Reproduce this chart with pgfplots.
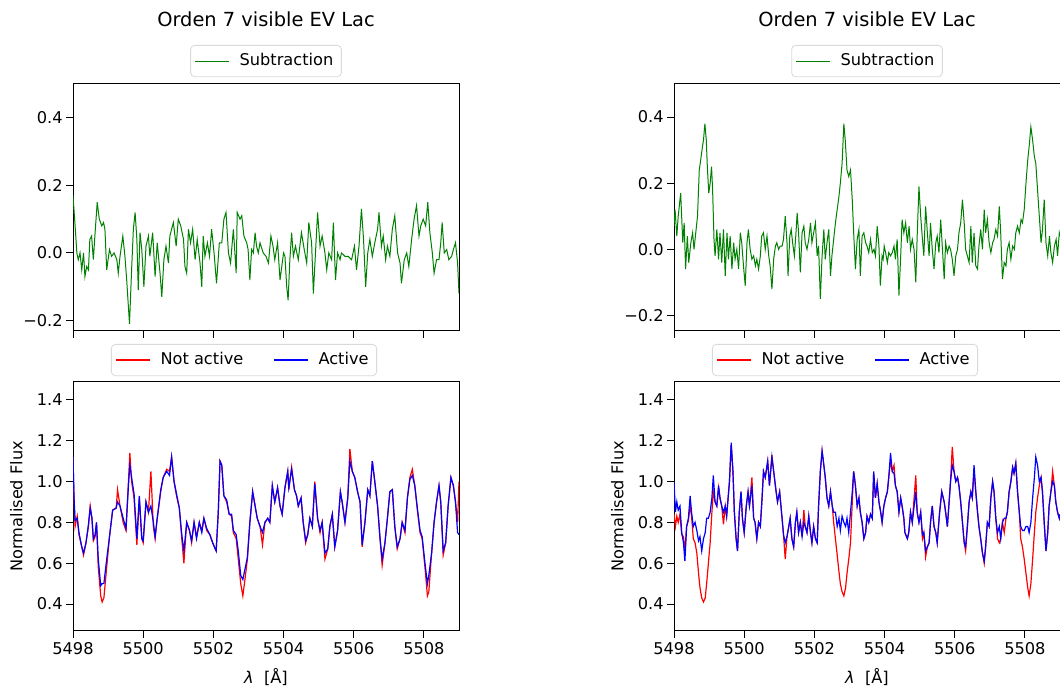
\documentclass[border=0pt]{standalone}
\usepackage{pgfplots}
\pgfplotsset{compat=1.18}
\usepackage{pgfplotstable}
\usepackage{fontspec}
\setmainfont{DejaVu Sans}

\definecolor{mplgreen}{RGB}{0,128,0}

% left column, subtraction
\pgfplotstableread{
x s
5498.00 0.17
5498.06 0.08
5498.11 0.00
5498.15 -0.02
5498.20 0.00
5498.25 -0.05
5498.30 0.00
5498.34 -0.07
5498.39 -0.04
5498.44 -0.05
5498.48 0.04
5498.53 0.05
5498.58 -0.02
5498.63 0.06
5498.69 0.15
5498.75 0.10
5498.82 0.08
5498.87 0.09
5498.91 0.07
5498.96 -0.05
5499.04 0.01
5499.10 -0.01
5499.17 0.00
5499.25 -0.02
5499.29 -0.06
5499.34 -0.01
5499.42 0.05
5499.48 -0.01
5499.53 -0.08
5499.61 -0.21
5499.67 -0.05
5499.72 0.07
5499.77 0.12
5499.82 0.04
5499.86 -0.11
5499.91 0.06
5499.96 0.01
5500.02 -0.10
5500.08 0.02
5500.15 0.05
5500.19 -0.01
5500.27 0.06
5500.34 -0.07
5500.40 0.03
5500.48 -0.06
5500.53 -0.13
5500.59 -0.02
5500.65 0.02
5500.72 -0.03
5500.76 0.05
5500.86 0.09
5500.94 0.02
5501.00 0.10
5501.07 0.08
5501.15 0.04
5501.19 -0.04
5501.24 -0.06
5501.29 0.07
5501.35 0.03
5501.41 0.07
5501.48 -0.02
5501.54 0.04
5501.62 -0.03
5501.67 -0.10
5501.71 0.05
5501.76 -0.01
5501.83 0.03
5501.89 -0.01
5501.95 0.07
5502.02 0.00
5502.09 -0.09
5502.17 0.03
5502.24 0.03
5502.30 0.10
5502.36 0.12
5502.43 0.00
5502.49 -0.03
5502.57 0.07
5502.65 -0.06
5502.68 0.12
5502.76 0.10
5502.81 0.11
5502.87 0.05
5502.95 0.03
5502.99 0.01
5503.04 -0.08
5503.09 0.01
5503.14 0.00
5503.19 0.06
5503.23 0.02
5503.28 0.00
5503.33 0.03
5503.42 0.00
5503.50 -0.01
5503.57 -0.03
5503.64 0.05
5503.70 0.02
5503.75 -0.02
5503.83 0.03
5503.90 -0.08
5504.00 0.00
5504.04 -0.01
5504.09 -0.10
5504.13 -0.14
5504.18 -0.02
5504.23 0.06
5504.28 -0.01
5504.34 0.02
5504.42 -0.02
5504.51 0.06
5504.59 0.01
5504.66 -0.03
5504.72 0.09
5504.80 0.03
5504.85 -0.12
5504.89 -0.04
5504.97 0.12
5505.04 0.02
5505.10 0.05
5505.18 0.00
5505.23 -0.05
5505.29 0.00
5505.37 -0.02
5505.42 0.09
5505.48 -0.08
5505.54 0.00
5505.61 -0.02
5505.65 0.00
5505.75 -0.01
5505.84 -0.01
5505.94 -0.02
5506.02 0.02
5506.08 -0.05
5506.15 0.02
5506.22 0.13
5506.28 0.04
5506.34 -0.10
5506.40 0.00
5506.46 0.04
5506.53 -0.01
5506.60 0.03
5506.68 0.07
5506.72 0.12
5506.79 0.02
5506.84 0.05
5506.91 -0.02
5506.96 0.02
5507.03 -0.01
5507.10 0.07
5507.17 0.11
5507.25 0.00
5507.32 -0.03
5507.36 -0.09
5507.44 -0.02
5507.51 0.00
5507.57 -0.04
5507.65 0.04
5507.72 0.10
5507.79 0.14
5507.86 0.05
5507.91 0.08
5507.98 0.10
5508.05 0.08
5508.11 0.15
5508.17 0.06
5508.24 0.00
5508.29 -0.06
5508.36 -0.02
5508.43 -0.02
5508.48 0.03
5508.52 0.09
5508.58 0.00
5508.65 0.01
5508.71 -0.02
5508.79 -0.01
5508.84 0.01
5508.90 0.03
5508.96 -0.03
5509.00 -0.12
}\subleft

% left column, spectra: not active, active
\pgfplotstableread{
x na ac
5498.00 1.12 1.12
5498.03 0.90 0.92
5498.06 0.78 0.81
5498.12 0.83 0.82
5498.17 0.74 0.75
5498.25 0.68 0.68
5498.30 0.64 0.65
5498.37 0.70 0.70
5498.44 0.78 0.79
5498.49 0.88 0.87
5498.54 0.82 0.82
5498.58 0.71 0.72
5498.63 0.73 0.74
5498.67 0.80 0.80
5498.72 0.58 0.62
5498.79 0.44 0.49
5498.83 0.41 0.50
5498.88 0.43 0.50
5498.96 0.58 0.62
5499.04 0.73 0.73
5499.13 0.86 0.86
5499.23 0.87 0.87
5499.27 0.96 0.90
5499.34 0.88 0.88
5499.43 0.80 0.82
5499.51 0.76 0.77
5499.58 1.00 0.98
5499.62 1.14 1.08
5499.67 1.00 1.02
5499.74 0.92 0.94
5499.82 0.69 0.72
5499.89 0.92 0.93
5499.96 0.72 0.72
5500.00 0.70 0.71
5500.08 0.90 0.90
5500.15 0.85 0.85
5500.22 1.05 0.88
5500.29 0.78 0.80
5500.34 0.72 0.73
5500.40 0.82 0.82
5500.50 0.95 0.96
5500.57 1.02 1.02
5500.67 1.06 1.05
5500.75 1.05 1.03
5500.81 1.12 1.12
5500.88 1.00 1.00
5500.95 0.93 0.94
5501.03 0.87 0.87
5501.10 0.72 0.74
5501.16 0.60 0.66
5501.24 0.80 0.80
5501.32 0.76 0.76
5501.38 0.70 0.71
5501.45 0.80 0.80
5501.52 0.73 0.72
5501.60 0.80 0.80
5501.67 0.76 0.75
5501.73 0.82 0.82
5501.81 0.76 0.77
5501.90 0.74 0.74
5501.98 0.70 0.70
5502.08 0.66 0.66
5502.14 0.85 0.85
5502.19 1.10 1.10
5502.24 1.08 1.08
5502.30 0.93 0.93
5502.38 0.90 0.91
5502.45 0.84 0.84
5502.52 0.83 0.84
5502.57 0.75 0.76
5502.65 0.72 0.74
5502.71 0.62 0.66
5502.78 0.50 0.54
5502.84 0.44 0.52
5502.90 0.52 0.57
5502.97 0.62 0.63
5503.04 0.80 0.80
5503.12 0.95 0.95
5503.19 0.88 0.88
5503.25 0.82 0.82
5503.33 0.78 0.78
5503.40 0.69 0.75
5503.47 0.80 0.80
5503.55 0.82 0.82
5503.61 0.80 0.80
5503.68 0.98 0.98
5503.75 0.90 0.90
5503.83 0.97 0.97
5503.90 0.88 0.88
5503.96 0.84 0.84
5504.04 0.97 0.97
5504.12 1.05 1.05
5504.15 0.96 0.97
5504.23 1.07 1.06
5504.31 0.96 0.96
5504.37 0.93 0.93
5504.42 0.88 0.88
5504.50 0.92 0.92
5504.56 0.80 0.80
5504.63 0.70 0.71
5504.69 0.74 0.74
5504.75 0.82 0.82
5504.82 0.78 0.78
5504.89 1.00 0.99
5504.97 0.82 0.82
5505.04 0.75 0.76
5505.10 0.80 0.80
5505.18 0.62 0.65
5505.26 0.67 0.67
5505.32 0.78 0.78
5505.39 0.84 0.84
5505.46 0.68 0.68
5505.54 0.76 0.76
5505.62 0.95 0.95
5505.67 0.90 0.90
5505.75 0.80 0.80
5505.83 0.92 0.92
5505.89 1.16 1.10
5505.96 1.05 1.05
5506.03 1.02 1.02
5506.11 0.95 0.95
5506.18 0.90 0.90
5506.24 0.68 0.69
5506.32 0.80 0.80
5506.40 0.96 0.96
5506.46 0.93 0.93
5506.53 1.10 1.10
5506.60 1.00 1.00
5506.68 0.88 0.88
5506.75 0.72 0.72
5506.81 0.59 0.62
5506.89 0.70 0.70
5506.96 0.82 0.82
5507.03 0.95 0.95
5507.10 0.96 0.96
5507.17 0.78 0.78
5507.24 0.67 0.68
5507.32 0.72 0.72
5507.38 0.80 0.80
5507.46 0.75 0.76
5507.53 0.92 0.92
5507.60 1.02 1.01
5507.67 1.06 1.03
5507.74 0.98 0.98
5507.82 0.85 0.86
5507.89 0.75 0.76
5507.95 0.72 0.73
5508.03 0.58 0.60
5508.10 0.44 0.50
5508.14 0.46 0.54
5508.22 0.65 0.65
5508.29 0.80 0.80
5508.36 0.90 0.90
5508.43 0.98 0.98
5508.48 0.90 0.90
5508.55 0.64 0.66
5508.62 0.70 0.70
5508.69 0.88 0.88
5508.77 1.02 1.02
5508.84 0.98 0.98
5508.90 0.90 0.90
5508.96 0.80 0.75
5509.00 1.00 0.74
}\specleft

% right column, subtraction
\pgfplotstableread{
x s
5498.00 0.07
5498.03 0.12
5498.08 0.04
5498.12 0.10
5498.19 0.17
5498.25 0.02
5498.29 0.08
5498.33 -0.06
5498.38 0.04
5498.42 -0.04
5498.48 0.02
5498.53 0.05
5498.57 0.00
5498.63 0.06
5498.67 0.10
5498.72 0.24
5498.76 0.27
5498.81 0.31
5498.84 0.33
5498.88 0.38
5498.92 0.33
5498.95 0.25
5498.99 0.17
5499.03 0.20
5499.07 0.25
5499.10 0.18
5499.14 0.03
5499.17 -0.02
5499.22 0.06
5499.27 -0.03
5499.31 0.05
5499.36 -0.04
5499.41 0.06
5499.46 -0.08
5499.51 0.05
5499.55 -0.03
5499.60 0.04
5499.65 -0.06
5499.70 0.02
5499.74 -0.03
5499.79 0.00
5499.84 -0.06
5499.89 0.05
5499.93 0.02
5499.98 -0.05
5500.03 -0.11
5500.08 0.02
5500.12 0.06
5500.17 0.00
5500.22 -0.03
5500.27 -0.02
5500.32 -0.05
5500.36 -0.03
5500.41 -0.06
5500.46 -0.02
5500.50 0.04
5500.55 0.05
5500.60 0.00
5500.65 0.04
5500.70 -0.02
5500.74 -0.05
5500.79 -0.12
5500.84 -0.03
5500.89 0.01
5500.93 0.02
5500.98 0.00
5501.03 0.01
5501.08 0.01
5501.12 0.03
5501.17 0.10
5501.22 0.02
5501.25 -0.08
5501.30 0.04
5501.34 0.06
5501.38 0.02
5501.43 -0.02
5501.47 0.04
5501.51 0.11
5501.55 0.05
5501.60 -0.07
5501.65 0.05
5501.70 0.07
5501.74 0.02
5501.79 0.00
5501.84 0.03
5501.89 0.08
5501.93 0.02
5501.98 0.05
5502.03 0.08
5502.08 -0.02
5502.12 0.01
5502.17 -0.15
5502.22 -0.02
5502.27 0.06
5502.31 -0.03
5502.36 0.02
5502.41 0.06
5502.46 -0.08
5502.50 -0.02
5502.55 0.03
5502.60 0.08
5502.65 0.12
5502.70 0.16
5502.74 0.20
5502.79 0.26
5502.84 0.38
5502.88 0.33
5502.93 0.24
5502.98 0.22
5503.03 0.24
5503.08 0.15
5503.12 0.05
5503.17 -0.06
5503.22 0.03
5503.27 0.06
5503.31 -0.08
5503.36 0.04
5503.41 0.05
5503.46 0.02
5503.50 0.01
5503.55 -0.01
5503.60 0.03
5503.65 -0.01
5503.70 0.00
5503.74 -0.02
5503.79 0.07
5503.84 0.01
5503.88 -0.11
5503.93 -0.02
5503.96 -0.03
5503.99 0.01
5504.03 -0.01
5504.08 -0.04
5504.12 -0.01
5504.17 -0.02
5504.22 -0.01
5504.27 0.01
5504.31 -0.03
5504.36 0.03
5504.41 -0.14
5504.46 -0.02
5504.50 0.09
5504.55 0.05
5504.60 0.08
5504.65 0.02
5504.70 0.07
5504.74 0.00
5504.79 0.03
5504.84 0.00
5504.89 -0.10
5504.93 0.04
5504.98 0.19
5505.03 0.10
5505.08 0.03
5505.12 -0.02
5505.17 0.13
5505.22 0.05
5505.27 -0.02
5505.31 0.08
5505.36 0.00
5505.41 -0.06
5505.46 0.02
5505.50 0.04
5505.55 -0.01
5505.60 0.09
5505.65 0.00
5505.70 -0.09
5505.74 0.02
5505.79 -0.01
5505.84 0.01
5505.88 0.00
5505.93 -0.03
5505.98 -0.08
5506.03 -0.02
5506.08 0.00
5506.12 0.05
5506.17 0.08
5506.22 0.15
5506.27 0.08
5506.31 0.00
5506.36 -0.02
5506.41 -0.04
5506.46 0.07
5506.50 -0.04
5506.55 0.05
5506.60 -0.05
5506.65 -0.06
5506.69 0.01
5506.74 0.06
5506.79 0.00
5506.84 0.12
5506.88 0.05
5506.93 0.09
5506.98 0.02
5507.03 -0.01
5507.08 0.02
5507.12 0.03
5507.17 0.06
5507.22 0.04
5507.27 0.13
5507.31 0.05
5507.36 -0.09
5507.41 -0.04
5507.46 -0.05
5507.50 0.00
5507.55 0.02
5507.60 -0.03
5507.65 0.01
5507.70 0.00
5507.74 0.05
5507.79 0.07
5507.84 0.05
5507.89 0.09
5507.93 0.08
5507.98 0.12
5508.03 0.20
5508.08 0.27
5508.12 0.31
5508.17 0.37
5508.22 0.33
5508.27 0.28
5508.31 0.26
5508.36 0.18
5508.41 0.10
5508.46 0.02
5508.50 0.06
5508.55 0.15
5508.60 0.02
5508.65 -0.02
5508.70 0.04
5508.74 -0.01
5508.79 -0.04
5508.84 0.01
5508.89 0.03
5508.93 -0.02
5508.98 0.05
5509.00 0.04
}\subright

% right column, spectra: not active, active
\pgfplotstableread{
x na ac
5498.00 0.84 1.00
5498.04 0.78 0.85
5498.08 0.83 0.90
5498.12 0.80 0.86
5498.17 0.84 0.88
5498.22 0.74 0.75
5498.27 0.73 0.70
5498.31 0.66 0.61
5498.36 0.78 0.78
5498.41 0.81 0.82
5498.46 0.88 0.93
5498.50 0.83 0.85
5498.55 0.72 0.78
5498.60 0.70 0.80
5498.65 0.65 0.76
5498.70 0.55 0.71
5498.74 0.48 0.73
5498.79 0.43 0.66
5498.84 0.41 0.72
5498.89 0.43 0.75
5498.93 0.50 0.82
5498.98 0.60 0.82
5499.03 0.70 0.85
5499.08 0.85 0.92
5499.12 0.95 1.03
5499.17 0.90 0.90
5499.22 0.88 0.88
5499.27 0.97 0.98
5499.31 0.92 0.92
5499.36 0.88 0.88
5499.41 0.79 0.85
5499.46 0.88 0.88
5499.50 0.83 0.83
5499.58 1.00 1.00
5499.63 1.18 1.19
5499.68 1.05 1.05
5499.72 0.85 0.85
5499.77 0.72 0.72
5499.81 0.66 0.66
5499.86 0.85 0.85
5499.91 0.95 0.95
5499.95 0.82 0.82
5500.00 0.75 0.75
5500.06 0.88 0.88
5500.11 0.95 0.95
5500.15 0.88 0.88
5500.22 1.02 0.98
5500.27 0.82 0.82
5500.31 0.80 0.80
5500.36 0.72 0.72
5500.41 0.80 0.80
5500.46 0.78 0.78
5500.51 0.92 0.92
5500.55 1.05 1.05
5500.60 1.02 1.02
5500.67 1.10 1.10
5500.72 0.98 0.98
5500.79 1.13 1.12
5500.84 1.05 1.05
5500.91 0.95 0.95
5500.95 0.90 0.90
5501.01 0.95 0.95
5501.08 0.82 0.82
5501.12 0.74 0.74
5501.17 0.62 0.70
5501.22 0.73 0.73
5501.27 0.78 0.78
5501.31 0.82 0.82
5501.36 0.72 0.72
5501.41 0.68 0.68
5501.46 0.80 0.80
5501.50 0.85 0.85
5501.55 0.75 0.75
5501.60 0.80 0.80
5501.65 0.73 0.73
5501.70 0.86 0.80
5501.74 0.78 0.78
5501.79 0.75 0.75
5501.84 0.83 0.83
5501.89 0.75 0.75
5501.93 0.70 0.70
5501.98 0.78 0.78
5502.03 0.72 0.72
5502.08 0.70 0.70
5502.12 0.88 0.88
5502.17 1.05 1.05
5502.22 1.15 1.15
5502.27 1.08 1.08
5502.31 1.02 1.02
5502.36 0.92 0.92
5502.41 0.88 0.88
5502.46 0.95 0.95
5502.51 0.88 0.88
5502.55 0.80 0.85
5502.60 0.72 0.85
5502.65 0.64 0.78
5502.70 0.56 0.82
5502.74 0.50 0.76
5502.79 0.46 0.83
5502.84 0.44 0.80
5502.89 0.48 0.78
5502.93 0.55 0.82
5502.98 0.62 0.75
5503.03 0.70 0.85
5503.08 0.90 0.95
5503.12 1.05 1.05
5503.17 0.98 0.98
5503.22 0.88 0.88
5503.27 0.92 0.92
5503.31 0.85 0.85
5503.36 0.80 0.80
5503.41 0.72 0.72
5503.46 0.75 0.75
5503.50 0.83 0.83
5503.55 0.80 0.80
5503.60 0.84 0.84
5503.65 0.82 0.82
5503.69 1.04 1.05
5503.74 0.92 0.92
5503.79 0.99 0.99
5503.84 0.90 0.90
5503.89 0.85 0.85
5503.93 0.80 0.80
5503.98 0.88 0.88
5504.03 0.92 0.92
5504.08 0.95 0.95
5504.12 1.02 1.02
5504.17 1.10 1.14
5504.22 1.05 1.05
5504.27 1.08 1.04
5504.31 0.98 0.98
5504.36 0.95 0.95
5504.41 0.85 0.85
5504.46 0.92 0.92
5504.50 0.88 0.88
5504.55 0.82 0.82
5504.58 0.75 0.75
5504.65 0.72 0.72
5504.69 0.75 0.75
5504.74 0.85 0.85
5504.79 0.80 0.80
5504.89 1.03 0.95
5504.93 0.85 0.85
5504.98 0.80 0.80
5505.03 0.85 0.85
5505.08 0.72 0.74
5505.12 0.75 0.75
5505.17 0.63 0.66
5505.22 0.68 0.68
5505.27 0.70 0.70
5505.31 0.80 0.80
5505.36 0.88 0.88
5505.41 0.78 0.78
5505.46 0.75 0.75
5505.50 0.70 0.70
5505.57 0.85 0.85
5505.63 0.95 0.95
5505.70 0.90 0.90
5505.74 0.85 0.85
5505.79 0.78 0.78
5505.84 0.90 0.90
5505.88 1.00 1.00
5505.93 1.17 1.08
5505.98 1.05 1.05
5506.03 1.00 1.00
5506.08 1.02 1.02
5506.12 0.98 0.98
5506.17 0.90 0.90
5506.22 0.80 0.80
5506.27 0.70 0.70
5506.31 0.66 0.68
5506.36 0.78 0.78
5506.41 0.90 0.90
5506.46 0.95 0.95
5506.50 0.92 0.92
5506.55 1.05 1.08
5506.60 0.95 0.95
5506.65 0.85 0.85
5506.69 0.78 0.78
5506.74 0.72 0.72
5506.79 0.65 0.65
5506.84 0.60 0.61
5506.88 0.68 0.68
5506.93 0.80 0.80
5506.98 0.78 0.78
5507.03 0.92 0.92
5507.08 1.00 1.00
5507.12 0.95 0.95
5507.17 0.82 0.82
5507.22 0.72 0.75
5507.27 0.70 0.78
5507.31 0.72 0.72
5507.36 0.80 0.80
5507.41 0.75 0.82
5507.46 0.82 0.82
5507.50 0.85 0.85
5507.55 0.95 0.95
5507.60 1.00 1.00
5507.65 1.07 1.07
5507.69 1.04 1.04
5507.74 1.09 1.09
5507.79 0.95 0.95
5507.84 0.85 0.85
5507.88 0.72 0.78
5507.93 0.68 0.76
5507.98 0.62 0.76
5508.03 0.55 0.78
5508.08 0.48 0.78
5508.12 0.44 0.75
5508.17 0.50 0.80
5508.22 0.62 0.92
5508.27 0.75 1.02
5508.31 0.85 1.12
5508.36 0.92 1.08
5508.41 0.98 1.00
5508.46 1.02 1.02
5508.50 0.95 0.95
5508.55 0.80 0.80
5508.60 0.66 0.66
5508.65 0.75 0.75
5508.69 0.88 0.88
5508.74 0.95 0.95
5508.79 1.05 1.00
5508.84 0.98 0.98
5508.88 0.90 0.90
5508.93 0.85 0.85
5508.98 0.82 0.82
5509.00 0.84 0.84
}\specright

\pgfplotsset{
  panel/.style={
    scale only axis, width=193pt, anchor=south west,
    xmin=5498, xmax=5509,
    xtick={5498,5500,5502,5504,5506,5508},
    tick align=outside, major tick length=3.5pt,
    xtick pos=bottom, ytick pos=left,
    axis line style={line width=0.5pt},
    tick style={black, line width=0.5pt},
    tick label style={font=\fontsize{8.1}{9.7}\selectfont},
    yticklabel style={inner sep=1.5pt},
    xticklabel style={inner sep=2pt},
    label style={font=\fontsize{8.1}{9.7}\selectfont},
    legend style={draw=black!15, rounded corners=2pt, anchor=center,
      font=\fontsize{8.1}{9.7}\selectfont, inner sep=2pt,
      /tikz/every odd column/.append style={column sep=3pt},
      /tikz/every even column/.append style={column sep=13pt}},
    legend image code/.code={\draw[#1] (0pt,0pt) -- (17pt,0pt);},
  },
  subpanel/.style={panel, height=123.5pt,
    xticklabels={}, ymax=0.5,
    ytick={-0.2,0,0.2,0.4}, yticklabels={−0.2,0.0,0.2,0.4},
    title={Orden 7 visible EV Lac},
    title style={at={(0.5,1)}, anchor=center, yshift=26.5pt,
      font=\fontsize{9.7}{11.6}\selectfont},
    legend style={at={(0.5,1.093)}},
  },
  specpanel/.style={panel, height=124.75pt,
    ymin=0.268, ymax=1.49,
    ytick={0.4,0.6,0.8,1.0,1.2,1.4},
    yticklabels={0.4,0.6,0.8,1.0,1.2,1.4},
    xticklabels={5498,5500,5502,5504,5506,5508},
    xlabel={\textit{λ}\ \ [Å]},
    xlabel style={at={(axis description cs:0.5,0)}, anchor=center, yshift=-23pt},
    ylabel={Normalised Flux},
    ylabel style={at={(axis description cs:-0.147,0.5)}, anchor=center},
    legend columns=2,
    legend style={at={(0.443,1.086)}},
  },
}

\begin{document}
\begin{tikzpicture}
% left column
\begin{axis}[subpanel, at={(36.5pt,179.5pt)}, ymin=-0.231]
\addplot[mplgreen, line width=0.5pt] table[x=x, y=s] {\subleft};
\addlegendentry{Subtraction}
\end{axis}
\begin{axis}[specpanel, at={(36.5pt,29.5pt)}]
\addplot[red, line width=0.6pt] table[x=x, y=na] {\specleft};
\addlegendentry{Not active}
\addplot[blue, line width=0.6pt] table[x=x, y=ac] {\specleft};
\addlegendentry{Active}
\end{axis}
% right column
\begin{axis}[subpanel, at={(337pt,179.5pt)}, ymin=-0.247]
\addplot[mplgreen, line width=0.5pt] table[x=x, y=s] {\subright};
\addlegendentry{Subtraction}
\end{axis}
\begin{axis}[specpanel, at={(337pt,29.5pt)}]
\addplot[red, line width=0.6pt] table[x=x, y=na] {\specright};
\addlegendentry{Not active}
\addplot[blue, line width=0.6pt] table[x=x, y=ac] {\specright};
\addlegendentry{Active}
\end{axis}
\pgfresetboundingbox
\path[use as bounding box] (0pt,0pt) rectangle (530pt,345pt);
\end{tikzpicture}
\end{document}
